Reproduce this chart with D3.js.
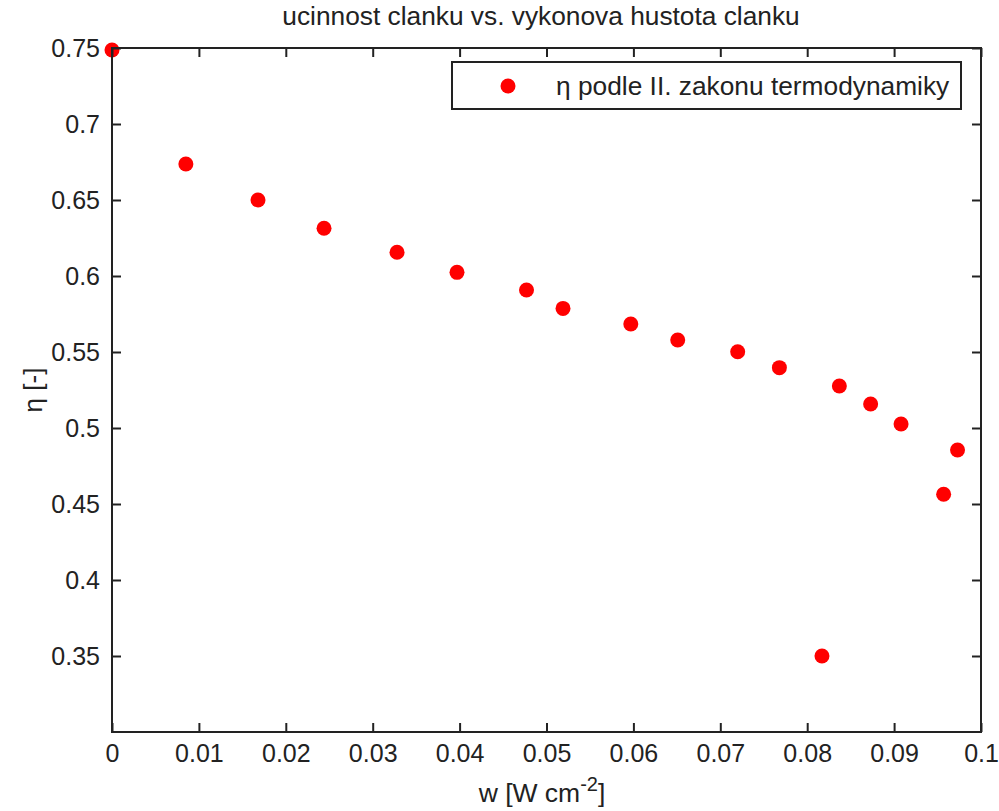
<!DOCTYPE html>
<html>
<head>
<meta charset="utf-8">
<script src="https://cdn.jsdelivr.net/npm/d3@7"></script>
<style>
  body { margin: 0; background: #fff; }
  svg text { font-family: "Liberation Sans", Arial, sans-serif; fill: #222; }
</style>
</head>
<body>
<svg id="canvas"></svg>
<script>
// hustota vykonu w [W cm^-2] a ucinnost eta [-]
let wValues = [0, 0.0085, 0.0168, 0.0244, 0.0328, 0.0397, 0.0477, 0.0519, 0.0597, 0.0651,
               0.0720, 0.0768, 0.0837, 0.0873, 0.0908, 0.0973, 0.0957, 0.0817]
let etaValues = [0.7487, 0.6737, 0.6500, 0.6314, 0.6156, 0.6024, 0.5908, 0.5787, 0.5684, 0.5579,
                 0.5502, 0.5397, 0.5276, 0.5158, 0.5026, 0.4855, 0.4564, 0.3500]
let xTicks = [0, 0.01, 0.02, 0.03, 0.04, 0.05, 0.06, 0.07, 0.08, 0.09, 0.1]
let yTicks = [0.35, 0.4, 0.45, 0.5, 0.55, 0.6, 0.65, 0.7, 0.75]
let legendLabel = 'η podle II. zakonu termodynamiky'

let width = 999
let height = 811
let plotLeft = 112, plotRight = 981, plotTop = 48, plotBottom = 732
let fontSize = 25

let canvas = d3.select('#canvas')
canvas.attr('width', width).attr('height', height)

let xScale = d3.scaleLinear().domain([0, 0.1]).range([plotLeft, plotRight])
let yScale = d3.scaleLinear().domain([0.3, 0.75]).range([plotBottom, plotTop])

let points = wValues.map((w, i) => ({ w: w, eta: etaValues[i] }))

// body
canvas.append('g')
    .selectAll('circle')
    .data(points)
    .enter()
    .append('circle')
    .attr('cx', d => xScale(d.w))
    .attr('cy', d => yScale(d.eta))
    .attr('r', 7.5)
    .attr('fill', '#ff0000')

let styleAxis = g => {
    g.select('.domain').remove()
    g.selectAll('line').attr('stroke', '#222').attr('stroke-width', 2)
    g.selectAll('text').attr('font-size', fontSize).attr('font-family', null).attr('fill', '#222')
}

canvas.append('g')
    .attr('transform', 'translate(0,' + plotBottom + ')')
    .call(d3.axisBottom(xScale).tickValues(xTicks).tickFormat(d => String(d))
        .tickSizeInner(-9).tickSizeOuter(0).tickPadding(12))
    .call(styleAxis)

canvas.append('g')
    .attr('transform', 'translate(0,' + plotTop + ')')
    .call(d3.axisTop(xScale).tickValues(xTicks).tickFormat('')
        .tickSizeInner(-9).tickSizeOuter(0))
    .call(styleAxis)

canvas.append('g')
    .attr('transform', 'translate(' + plotLeft + ',0)')
    .call(d3.axisLeft(yScale).tickValues(yTicks).tickFormat(d => String(d))
        .tickSizeInner(-9).tickSizeOuter(0).tickPadding(12))
    .call(styleAxis)

canvas.append('g')
    .attr('transform', 'translate(' + plotRight + ',0)')
    .call(d3.axisRight(yScale).tickValues(yTicks).tickFormat('')
        .tickSizeInner(-9).tickSizeOuter(0))
    .call(styleAxis)

// ramecek grafu
canvas.append('rect')
    .attr('x', plotLeft).attr('y', plotTop)
    .attr('width', plotRight - plotLeft).attr('height', plotBottom - plotTop)
    .attr('fill', 'none').attr('stroke', '#222').attr('stroke-width', 2)

// titulek
canvas.append('text')
    .attr('x', 541)
    .attr('y', 25)
    .attr('text-anchor', 'middle')
    .attr('font-size', 26.3)
    .text('ucinnost clanku vs. vykonova hustota clanku')

// popisek osy x
let xLabel = canvas.append('text')
    .attr('x', 542)
    .attr('y', 802)
    .attr('text-anchor', 'middle')
    .attr('font-size', 26.5)
xLabel.append('tspan').text('w [W cm')
xLabel.append('tspan').attr('dy', -11).attr('font-size', 20).text('-2')
xLabel.append('tspan').attr('dy', 11).text(']')

// popisek osy y
canvas.append('text')
    .attr('transform', 'translate(42,' + (plotTop + plotBottom) / 2 + ') rotate(-90)')
    .attr('text-anchor', 'middle')
    .attr('font-size', 26)
    .text('η [-]')

// legenda
let legend = canvas.append('g')
legend.append('rect')
    .attr('x', 452).attr('y', 62)
    .attr('width', 509).attr('height', 47)
    .attr('fill', '#fff').attr('stroke', '#222').attr('stroke-width', 2)
legend.append('circle')
    .attr('cx', 508).attr('cy', 86).attr('r', 7.5).attr('fill', '#ff0000')
legend.append('text')
    .attr('x', 556).attr('y', 95)
    .attr('font-size', 26.3)
    .text(legendLabel)
</script>
</body>
</html>
